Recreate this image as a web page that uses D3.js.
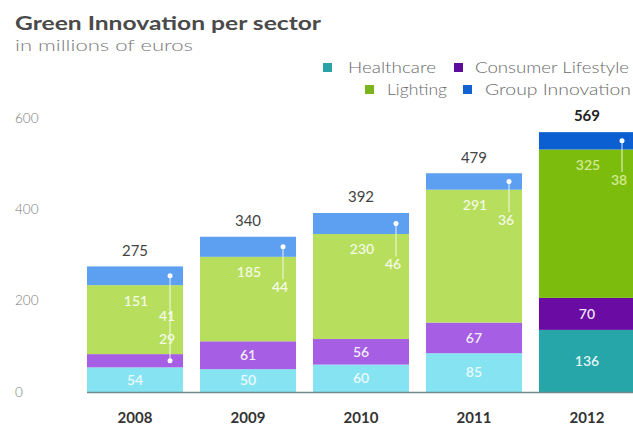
<!DOCTYPE html>
<html>
<head>
<meta charset="utf-8">
<script src="https://cdn.jsdelivr.net/npm/d3@7"></script>
<style>
  html, body { margin: 0; padding: 0; background: #fff; }
  svg { display: block; font-family: Lato, "Open Sans", sans-serif; }
</style>
</head>
<body>
<svg id="chart" width="633" height="429"></svg>
<script>
const years = ["2008", "2009", "2010", "2011", "2012"];
const seriesNames = ["Healthcare", "Consumer Lifestyle", "Lighting", "Group Innovation"];
const healthcare = [54, 50, 60, 85, 136];
const consumer = [29, 61, 56, 67, 70];
const lighting = [151, 185, 230, 291, 325];
const groupInnovation = [41, 44, 46, 36, 38];
const totals = [275, 340, 392, 479, 569];
const yTicks = [0, 200, 400, 600];

const lightColors = ["#86e3f2", "#a65fe4", "#b7de5c", "#5d9ff0"];
const darkColors = ["#27a6aa", "#6a0ca3", "#7cbc0c", "#0c5fd0"];
const legendColors = ["#2aa3a8", "#5c0d9c", "#7ab51d", "#1262d2"];

const keys = ["h", "c", "l", "g"];
const rows = years.map((y, i) => ({ year: y, h: healthcare[i], c: consumer[i], l: lighting[i], g: groupInnovation[i], total: totals[i] }));
const stack = d3.stack().keys(keys)(rows);

const svg = d3.select("#chart");
const x = d3.scaleBand().domain(years).range([87, 635]).paddingInner(0.15).paddingOuter(0);
const y = d3.scaleLinear().domain([0, 600]).range([392, 118]);

// Title
svg.append("text").attr("x", 15).attr("y", 30).attr("font-size", 18).attr("font-weight", 700)
  .attr("fill", "#4a4a4a").attr("textLength", 306).attr("lengthAdjust", "spacingAndGlyphs")
  .text("Green Innovation per sector");
svg.append("text").attr("x", 15).attr("y", 51).attr("font-size", 15).attr("font-weight", 300)
  .attr("fill", "#7a7a7a").attr("textLength", 178).attr("lengthAdjust", "spacingAndGlyphs")
  .text("in millions of euros");

// Legend
const legendItems = [
  { name: seriesNames[0], sx: 323, sy: 63, tx: 348, ty: 68, w: 88 },
  { name: seriesNames[1], sx: 454, sy: 63, tx: 475, ty: 68, w: 154 },
  { name: seriesNames[2], sx: 365, sy: 85, tx: 387, ty: 90, w: 60 },
  { name: seriesNames[3], sx: 463, sy: 85, tx: 485, ty: 90, w: 146 }
];
const lg = svg.append("g");
legendItems.forEach((d, i) => {
  lg.append("rect").attr("x", d.sx).attr("y", d.sy).attr("width", 9).attr("height", 9).attr("fill", legendColors[i]);
  lg.append("text").attr("x", d.tx).attr("y", d.ty).attr("dy", "0.35em").attr("font-size", 15.5).attr("font-weight", 300)
    .attr("fill", "#6a6a6a").attr("textLength", d.w).attr("lengthAdjust", "spacingAndGlyphs").text(d.name);
});

// Y axis labels
const yAxis = d3.axisLeft(y).tickValues(yTicks).tickSize(0).tickPadding(0);
const ya = svg.append("g").attr("transform", "translate(15,0)").call(yAxis);
ya.select(".domain").remove();
ya.selectAll("text").attr("text-anchor", "start").attr("font-size", 13.5).attr("font-weight", 300).attr("fill", "#7a7a7a")
  .attr("font-family", "Lato, sans-serif");

// Bars
const isLast = (i) => i === years.length - 1;
stack.forEach((layer, k) => {
  svg.append("g").selectAll("rect").data(layer).join("rect")
    .attr("x", d => x(d.data.year))
    .attr("y", d => y(d[1]))
    .attr("width", x.bandwidth())
    .attr("height", d => y(d[0]) - y(d[1]))
    .attr("fill", (d, i) => isLast(i) ? darkColors[k] : lightColors[k]);
});

// Baseline
svg.append("line").attr("x1", x(years[0])).attr("x2", 633).attr("y1", y(0) + 0.5).attr("y2", y(0) + 0.5)
  .attr("stroke", "#6f8c92").attr("stroke-width", 1.5);

const labels = svg.append("g").attr("font-size", 14).attr("font-weight", 600).attr("text-anchor", "middle");

rows.forEach((r, i) => {
  const x0 = x(r.year), bw = x.bandwidth(), cx = x0 + bw / 2, right = x0 + bw;
  const hS = stack[0][i], cS = stack[1][i], lS = stack[2][i], gS = stack[3][i];
  const labelFill = "#ffffff";
  // healthcare
  labels.append("text").attr("x", cx).attr("y", (y(hS[0]) + y(hS[1])) / 2).attr("dy", "0.35em")
    .attr("fill", labelFill).attr("fill-opacity", isLast(i) ? 0.9 : 0.85).text(r.h);
  // lighting
  const lTop = y(lS[1]);
  const lY = lTop + 15.5;
  labels.append("text").attr("x", cx + 1).attr("y", lY).attr("dy", "0.35em")
    .attr("fill", isLast(i) ? "#e4f3b0" : labelFill).attr("fill-opacity", 0.85).text(r.l);
  // group innovation
  const gY = lY + 15;
  const lineX = right - 13;
  const gMid = (y(gS[0]) + y(gS[1])) / 2;
  labels.append("text").attr("x", right - 16).attr("y", gY).attr("dy", "0.35em")
    .attr("fill", isLast(i) ? "#e4f3b0" : labelFill).attr("fill-opacity", 0.85).text(r.g);
  const smallConsumer = (y(cS[0]) - y(cS[1])) < 18;
  if (smallConsumer) {
    const cMid = (y(cS[0]) + y(cS[1])) / 2;
    svg.append("line").attr("x1", lineX).attr("x2", lineX).attr("y1", gMid).attr("y2", cMid)
      .attr("stroke", "#ffffff").attr("stroke-opacity", 0.85).attr("stroke-width", 1);
    svg.append("circle").attr("cx", lineX).attr("cy", cMid).attr("r", 2.5).attr("fill", "#fff");
    labels.append("text").attr("x", right - 16).attr("y", gY + 23).attr("dy", "0.35em")
      .attr("fill", labelFill).attr("fill-opacity", 0.85).text(r.c);
  } else {
    svg.append("line").attr("x1", lineX).attr("x2", lineX).attr("y1", gMid).attr("y2", gY - 8)
      .attr("stroke", "#ffffff").attr("stroke-opacity", 0.85).attr("stroke-width", 1);
    labels.append("text").attr("x", cx).attr("y", (y(cS[0]) + y(cS[1])) / 2).attr("dy", "0.35em")
      .attr("fill", labelFill).attr("fill-opacity", 0.9).text(r.c);
  }
  svg.append("circle").attr("cx", lineX).attr("cy", gMid).attr("r", 2.5).attr("fill", "#fff");
  // total
  svg.append("text").attr("x", cx).attr("y", y(r.total) - 16).attr("dy", "0.35em")
    .attr("text-anchor", "middle").attr("font-size", 15)
    .attr("font-weight", isLast(i) ? 700 : 400).attr("fill", isLast(i) ? "#222" : "#444").text(r.total);
  // x label
  svg.append("text").attr("x", cx).attr("y", 418).attr("dy", "0.35em")
    .attr("text-anchor", "middle").attr("font-size", 15).attr("font-weight", 700)
    .attr("fill", "#333").text(r.year);
});
</script>
</body>
</html>
